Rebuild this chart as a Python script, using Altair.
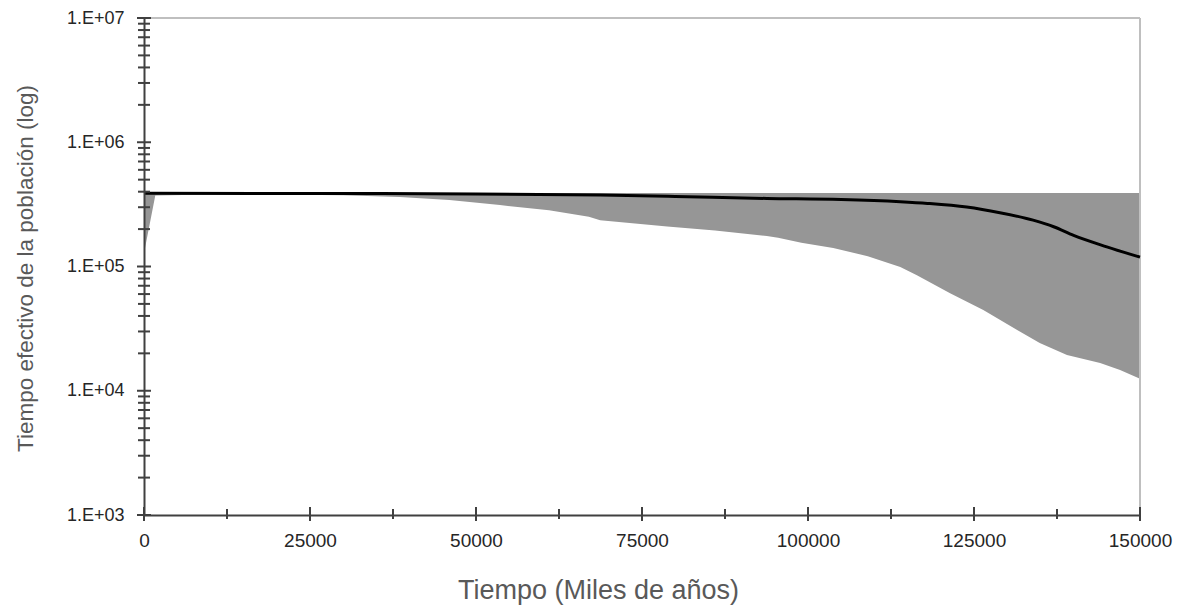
import altair as alt
import pandas as pd

# ---- data ----
band_x = [0, 1700, 10000, 20000, 30000, 38500, 46000, 53600, 61000, 67000, 68700,
          78800, 86000, 93800, 95500, 99000, 103800, 109000, 113900, 116400, 121400,
          126400, 131500, 134900, 139000, 144000, 147000, 150000]
band_lo = [1.28e5, 3.72e5, 3.80e5, 3.80e5, 3.75e5, 3.62e5, 3.43e5, 3.12e5, 2.84e5, 2.52e5, 2.36e5,
           2.10e5, 1.95e5, 1.76e5, 1.70e5, 1.55e5, 1.41e5, 1.21e5, 9.9e4, 8.5e4, 6.1e4,
           4.46e4, 3.08e4, 2.42e4, 1.94e4, 1.67e4, 1.47e4, 1.25e4]
band_hi = [3.9e5] * len(band_x)

med_x = [0, 30000, 50000, 68700, 80000, 93800, 105000, 113900, 118000, 123900,
         128900, 133900, 137000, 140000, 145000, 150000]
med_y = [3.88e5, 3.87e5, 3.83e5, 3.76e5, 3.66e5, 3.53e5, 3.46e5, 3.32e5, 3.22e5, 3.01e5,
         2.71e5, 2.36e5, 2.09e5, 1.78e5, 1.44e5, 1.19e5]

y_major = [1e3, 1e4, 1e5, 1e6, 1e7]
y_minor = [2e3, 3e3, 4e3, 5e3, 6e3, 7e3, 8e3, 9e3,
           2e4, 3e4, 4e4, 5e4, 6e4, 7e4, 8e4, 9e4,
           2e5, 3e5, 4e5, 5e5, 6e5, 7e5, 8e5, 9e5,
           2e6, 3e6, 4e6, 5e6, 6e6, 7e6, 8e6, 9e6]
x_major = [0, 25000, 50000, 75000, 100000, 125000, 150000]
x_minor = [12500, 37500, 62500, 87500, 112500, 137500]

x_title = "Tiempo (Miles de años)"
y_title = "Tiempo efectivo de la población (log)"

W, H = 996, 497
FONT = "Liberation Sans"
AXC = "#404040"

xscale = alt.Scale(domain=[0, 150000], nice=False, zero=False)
yscale = alt.Scale(type="log", domain=[1e3, 1e7], nice=False)

xaxis = alt.Axis(values=x_major, format="d", ticks=False, grid=False,
                 domainColor=AXC, domainWidth=2, labelFont=FONT, labelFontSize=19,
                 labelColor="#262626", labelPadding=16, labelFlush=False, labelOverlap=False,
                 title=x_title, titleFont=FONT, titleFontSize=27, titleFontWeight="normal",
                 titleColor="#595959", titleX=454, titleY=75, titleBaseline="middle",
                 titleAlign="center", zindex=1)
yaxis = alt.Axis(values=y_major, labelExpr="'1.E+0' + round(log(datum.value)/LN10)",
                 ticks=False, grid=False, domainColor=AXC, domainWidth=2,
                 labelFont=FONT, labelFontSize=18, labelColor="#262626", labelPadding=20,
                 labelOverlap=False, labelFlush=False,
                 title=y_title, titleFont=FONT, titleFontSize=22.5, titleFontWeight="normal",
                 titleColor="#595959", titleX=-119, titleY=250, titleAngle=270,
                 titleAlign="center", titleBaseline="middle", zindex=1)

band_df = pd.DataFrame({"x": band_x, "lo": band_lo, "hi": band_hi})
med_df = pd.DataFrame({"x": med_x, "med": med_y})

area = alt.Chart(band_df).mark_area(color="#969696", opacity=1).encode(
    x=alt.X("x:Q", scale=xscale, axis=xaxis),
    y=alt.Y("lo:Q", scale=yscale, axis=yaxis),
    y2="hi:Q",
)

line = alt.Chart(med_df).mark_line(color="#000000", strokeWidth=3, interpolate="monotone").encode(
    x=alt.X("x:Q", scale=xscale, axis=xaxis),
    y=alt.Y("med:Q", scale=yscale, axis=yaxis),
)

frame_top = alt.Chart(pd.DataFrame({"a": [0]})).mark_rule(color="#BFBFBF", strokeWidth=2).encode(
    x=alt.value(0), x2=alt.value(W), y=alt.value(0))
frame_right = alt.Chart(pd.DataFrame({"a": [0]})).mark_rule(color="#BFBFBF", strokeWidth=2).encode(
    x=alt.value(W), y=alt.value(0), y2=alt.value(H))

yt_major = alt.Chart(pd.DataFrame({"y": y_major})).mark_rule(color=AXC, strokeWidth=2).encode(
    y=alt.Y("y:Q", scale=yscale, axis=yaxis), x=alt.value(-7), x2=alt.value(7))
yt_minor = alt.Chart(pd.DataFrame({"y": y_minor})).mark_rule(color=AXC, strokeWidth=2).encode(
    y=alt.Y("y:Q", scale=yscale, axis=yaxis), x=alt.value(-6), x2=alt.value(6))
xt_major = alt.Chart(pd.DataFrame({"x": x_major})).mark_rule(color=AXC, strokeWidth=2).encode(
    x=alt.X("x:Q", scale=xscale, axis=xaxis), y=alt.value(H - 8), y2=alt.value(H + 6))
xt_minor = alt.Chart(pd.DataFrame({"x": x_minor})).mark_rule(color=AXC, strokeWidth=2).encode(
    x=alt.X("x:Q", scale=xscale, axis=xaxis), y=alt.value(H - 6), y2=alt.value(H + 4))

chart = alt.layer(area, frame_top, frame_right, line, yt_major, yt_minor, xt_major, xt_minor).properties(
    width=W, height=H,
    padding={"left": 144, "top": 18, "right": 41, "bottom": 96},
    autosize=alt.AutoSizeParams(type="none"),
    background="white",
).configure_view(stroke=None)

chart.save("out.html", embed_options={"renderer": "svg", "actions": False})
